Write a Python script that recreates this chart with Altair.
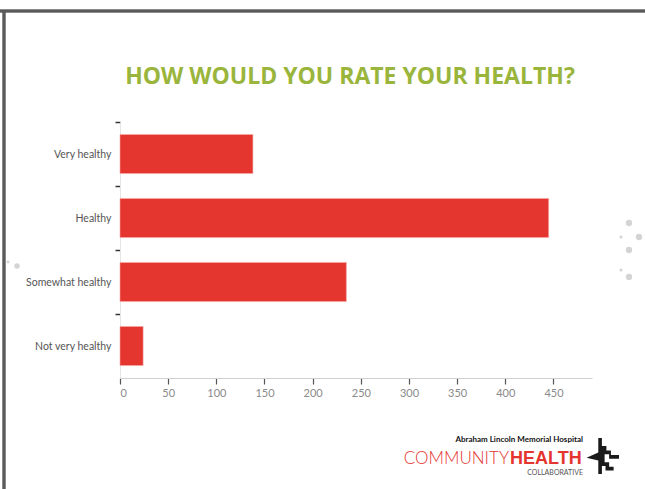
import altair as alt
import pandas as pd

categories = ["Very healthy", "Healthy", "Somewhat healthy", "Not very healthy"]
counts = [138, 445, 235, 24]
x_ticks = [0, 50, 100, 150, 200, 250, 300, 350, 400, 450]
title_text = "HOW WOULD YOU RATE YOUR HEALTH?"

df = pd.DataFrame({"category": categories, "count": counts})

W, H = 472, 256
FONT = "Liberation Sans Narrow, Lato, sans-serif"

bars = alt.Chart(df).mark_bar(color="#e5352f", stroke="#f3a9a6", strokeWidth=0.6).encode(
    x=alt.X("count:Q",
            scale=alt.Scale(domain=[0, 490], nice=False),
            axis=alt.Axis(values=x_ticks, title=None, grid=False,
                          domainColor="#d0d0d0", domainWidth=1.2,
                          tickColor="#555555", tickSize=6, tickWidth=1.2,
                          labelColor="#8a8a8a", labelFont=FONT, labelFontSize=11,
                          labelPadding=3)),
    y=alt.Y("category:N", sort=categories,
            scale=alt.Scale(paddingInner=0.39, paddingOuter=0.195),
            axis=alt.Axis(title=None, grid=False,
                          tickOffset=-32, labelOffset=32,
                          domainColor="#e4e4e4", domainWidth=1,
                          tickColor="#333333", tickSize=5, tickWidth=1.5,
                          labelColor="#555555", labelFont=FONT, labelFontSize=10.5,
                          labelPadding=4)),
)

def txt(text, x, y, size, color, weight="normal", align="center", font=FONT):
    return alt.Chart(pd.DataFrame({"t": [text]})).mark_text(
        fontSize=size, color=color, fontWeight=weight, align=align,
        baseline="middle", font=font
    ).encode(text="t:N", x=alt.value(x), y=alt.value(y))

def dot(x, y, size, color="#d4d4d4", shape="circle"):
    return alt.Chart(pd.DataFrame({"d": [0]})).mark_point(
        shape=shape, filled=True, color=color, size=size, opacity=1
    ).encode(x=alt.value(x), y=alt.value(y))

title = txt(title_text, 230, -45, 23, "#9ab53c", "bold", font="Open Sans, Lato, sans-serif")
logo1 = txt("Abraham Lincoln Memorial Hospital", 463, 318, 8, "#111111", "bold", "right")
logo2 = txt("COMMUNITY", 389, 337, 17, "#e5352f", 300, "right", font="Lato, sans-serif")
logo3 = txt("HEALTH", 390, 337, 18, "#e5352f", "bold", "left", font="Liberation Sans, Arial, sans-serif")
logo4 = txt("COLLABORATIVE", 463, 351, 7, "#555555", "normal", "right")

icon_path = ("M -0.15 -1 L 0.05 -1 L 0.05 -0.55 L 0.3 -0.55 L 0.3 -0.3 L 0.55 -0.3 "
             "L 0.55 -0.05 L 1 -0.05 L 1 0.15 L 0.45 0.15 L 0.45 -0.1 L 0.2 -0.1 "
             "L 0.2 0.35 L 0.45 0.35 L 0.45 0.6 L 0.7 0.6 L 0.7 0.8 L 0.25 0.8 "
             "L 0.25 0.55 L 0.05 0.55 L 0.05 1 L -0.15 1 L -0.15 0.25 L -0.8 0.1 "
             "L -0.15 -0.2 Z")
icon = alt.Chart(pd.DataFrame({"d": [0]})).mark_point(
    shape=icon_path, filled=True, color="#1a1a1a", size=1300, opacity=1
).encode(x=alt.value(481), y=alt.value(334))

frame_top = alt.Chart(df).mark_rule(color="#5a5a5a", strokeWidth=2.5).encode(
    x=alt.value(-120), x2=alt.value(525), y=alt.value(-111))
frame_left = alt.Chart(df).mark_rule(color="#5a5a5a", strokeWidth=2.5).encode(
    x=alt.value(-116), y=alt.value(-111), y2=alt.value(367))

decor = [
    dot(-103, 144, 30), dot(-112, 140, 8),
    dot(509, 101, 40), dot(519, 115, 40), dot(509, 128, 40), dot(509, 155, 40),
    dot(501, 115, 10), dot(501, 148, 10),
]

chart = alt.layer(frame_top, frame_left, *decor, bars, title, logo1, logo2, logo3, logo4, icon).properties(
    width=W, height=H,
    autosize=alt.AutoSizeParams(type="none"),
    padding={"left": 120, "top": 122, "right": 53, "bottom": 111},
    background="white",
).configure_view(stroke=None)

chart.save("out.html", embed_options={"renderer": "svg", "actions": False})
